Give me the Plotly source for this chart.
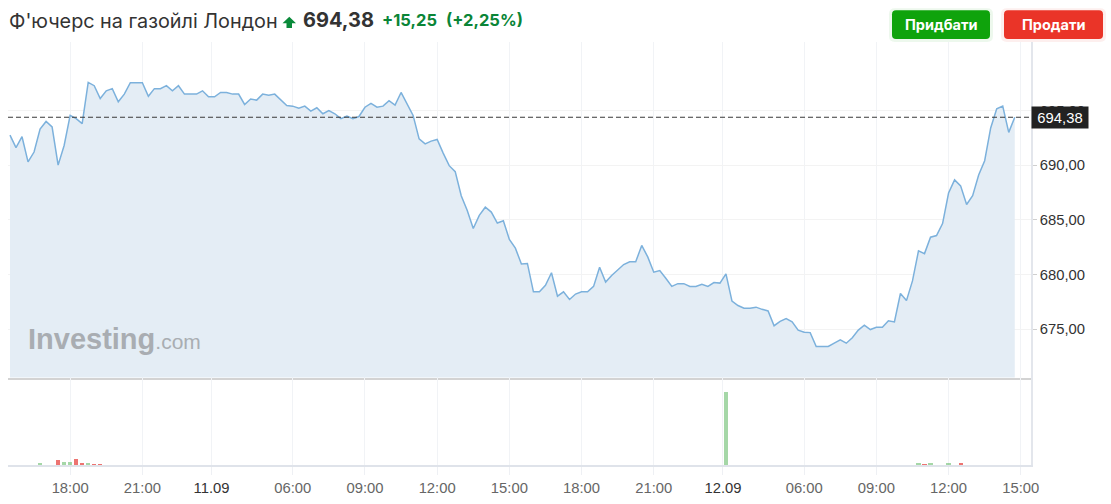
import plotly.graph_objects as go

# ---------------- data ----------------
prices = [
    692.75, 691.6, 692.6, 690.3, 691.2, 693.3, 694.0, 693.5, 690.0, 691.8,
    694.55, 694.25, 693.8, 697.57, 697.27, 696.1, 696.8, 697.0, 695.8, 696.5,
    697.55, 697.55, 697.55, 696.3, 697.0, 697.0, 697.27, 696.8, 697.27, 696.5,
    696.5, 696.5, 696.8, 696.25, 696.25, 696.65, 696.65, 696.5, 696.5, 695.55,
    696.05, 695.95, 696.5, 696.4, 696.5, 696.0, 695.45, 695.4, 695.2, 695.4,
    694.95, 695.25, 694.7, 695.0, 694.7, 694.25, 694.5, 694.25, 694.45, 695.3,
    695.65, 695.3, 695.4, 695.9, 695.5, 696.65, 695.65, 694.55, 692.4, 691.95,
    692.2, 692.35, 691.1, 689.95, 689.4, 687.2, 685.85, 684.2, 685.4, 686.15,
    685.7, 684.7, 684.9, 683.2, 682.4, 680.95, 681.0, 678.4, 678.4, 679.0,
    680.15, 678.0, 678.4, 677.7, 678.2, 678.4, 678.4, 678.9, 680.65, 679.3,
    679.9, 680.4, 680.9, 681.15, 681.15, 682.65, 681.6, 680.2, 680.35, 679.65,
    678.9, 679.15, 679.15, 678.9, 678.9, 679.1, 678.9, 679.25, 679.2, 680.05,
    677.55, 677.15, 676.9, 676.9, 677.0, 676.8, 676.65, 675.3, 675.7, 675.95,
    675.65, 674.9, 674.7, 674.67, 673.4, 673.4, 673.4, 673.7, 674.0, 673.7,
    674.2, 674.9, 675.35, 674.95, 675.15, 675.15, 675.75, 675.65, 678.25, 677.6,
    679.4, 682.15, 681.9, 683.4, 683.55, 684.65, 687.45, 688.65, 688.1, 686.4,
    687.2, 689.1, 690.4, 693.4, 695.15, 695.4, 693.0, 694.38,
]
bar_index = list(range(len(prices)))

vol_index = [1, 2, 3, 4, 5, 6, 7, 8, 9, 10, 11, 12, 13, 14, 15, 16, 17, 19, 20,
             119,
             147, 148, 149, 150, 151, 152, 153, 154, 155, 156, 157, 158]
vol_value = [0.8, 0.8, 0.8, 0.8, 2, 0.8, 0.8, 5, 3, 3.5, 6, 2, 2, 1, 1, 0.8, 0.8, 0.8, 0.8,
             74,
             0.8, 0.8, 0.8, 0.8, 2.5, 1.5, 2.5, 0.8, 0.8, 2.5, 0.8, 2.5]

tick_pos = [10, 22, 33.5, 47, 59, 71, 83, 95, 107, 118.5, 132, 144, 156, 168]
tick_text = ["18:00", "21:00", "11.09", "06:00", "09:00", "12:00", "15:00",
             "18:00", "21:00", "12.09", "06:00", "09:00", "12:00", "15:00"]
date_ticks = {"11.09", "12.09"}

price_ticks = [675, 680, 685, 690, 695]
last_price = prices[-1]
title_text = "Ф'ючерс на газойлі Лондон"
change_abs = "+15,25"
change_pct = "(+2,25%)"

# ---------------- layout helpers ----------------
W, H = 1111, 504
L, R, T, B = 8, 80, 42, 36


def X(px):
    return (px - L) / (W - L - R)


def Y(py):
    return (H - B - py) / (H - T - B)


def rrect(x0, y0, x1, y1, r):
    p = lambda x, y: f"{X(x):.5f},{Y(y):.5f}"
    return (f"M{p(x0 + r, y0)} L{p(x1 - r, y0)} Q{p(x1, y0)} {p(x1, y0 + r)} "
            f"L{p(x1, y1 - r)} Q{p(x1, y1)} {p(x1 - r, y1)} L{p(x0 + r, y1)} "
            f"Q{p(x0, y1)} {p(x0, y1 - r)} L{p(x0, y0 + r)} Q{p(x0, y0)} {p(x0 + r, y0)} Z")


def fmt(v):
    return f"{v:.2f}".replace(".", ",")


GREEN_UP = "rgba(76,175,80,0.5)"
RED_DN = "rgba(229,57,53,0.7)"
vol_colors = [GREEN_UP if prices[i] >= prices[i - 1] else RED_DN for i in vol_index]

AX_FONT = "Arial, Liberation Sans, sans-serif"
HDR_FONT = "Inter, Noto Sans, sans-serif"

fig = go.Figure()
fig.add_trace(go.Scatter(
    x=bar_index, y=prices, mode="lines",
    line=dict(color="#7cb1dc", width=1.5),
    fill="tozeroy", fillcolor="#e4edf5",
    xaxis="x", yaxis="y", hoverinfo="skip",
))
fig.add_trace(go.Bar(
    x=vol_index, y=vol_value, width=0.7,
    marker=dict(color=vol_colors, line=dict(width=0)),
    xaxis="x2", yaxis="y2", hoverinfo="skip",
))

split = Y(380)
xrange = [-0.33, 169.7]
ticktext_fmt = [f"<span style='color:#333'>{t}</span>" if t in date_ticks else t for t in tick_text]

fig.update_layout(
    width=W, height=H,
    margin=dict(l=L, r=R, t=T, b=B),
    paper_bgcolor="white", plot_bgcolor="white",
    showlegend=False, hovermode=False, bargap=0,
    xaxis=dict(domain=[0, 1], anchor="y", range=xrange,
               tickvals=tick_pos, ticktext=tick_text, showticklabels=False,
               showgrid=True, gridcolor="#f1f3f6", gridwidth=1,
               showline=True, linecolor="#d3d3d3", linewidth=2,
               zeroline=False, ticks=""),
    yaxis=dict(domain=[split, 1], anchor="x", side="right",
               range=[670.55, 701.27],
               tickvals=price_ticks, ticktext=[fmt(v) for v in price_ticks],
               tickfont=dict(family=AX_FONT, size=14.8, color="#333"),
               showgrid=True, gridcolor="#f3f3f3", gridwidth=1,
               ticks="outside", ticklen=4, tickcolor="#cfcfcf",
               showline=True, linecolor="#e3e6ec", linewidth=1.5,
               zeroline=False),
    xaxis2=dict(domain=[0, 1], anchor="y2", matches="x", range=xrange,
                tickvals=tick_pos, ticktext=ticktext_fmt,
                tickfont=dict(family=AX_FONT, size=14.8, color="#666"),
                showgrid=True, gridcolor="#f1f3f6", gridwidth=1,
                ticks="outside", ticklen=8, tickcolor="#eef0f4",
                showline=True, linecolor="#dfe3ea", linewidth=2,
                zeroline=False),
    yaxis2=dict(domain=[0, split], anchor="x2", side="right",
                range=[0, 88], showticklabels=False, showgrid=False,
                showline=True, linecolor="#e3e6ec", linewidth=1.5,
                zeroline=False, ticks=""),
)

shapes = [
    # last price dashed line
    dict(type="line", xref="paper", x0=0, x1=1, yref="y", y0=last_price, y1=last_price,
         line=dict(color="#3a3a3a", width=1.2, dash="5px,3px"), layer="above"),
    # button shadows
    dict(type="path", xref="paper", yref="paper", path=rrect(889, 8, 993, 42, 6),
         fillcolor="rgba(20,160,20,0.08)", line=dict(width=0)),
    dict(type="path", xref="paper", yref="paper", path=rrect(1001, 8, 1106, 42, 6),
         fillcolor="rgba(235,50,40,0.08)", line=dict(width=0)),
    # buttons
    dict(type="path", xref="paper", yref="paper", path=rrect(892, 10, 990, 39, 4),
         fillcolor="#0fa30c", line=dict(width=0)),
    dict(type="path", xref="paper", yref="paper", path=rrect(1004, 10, 1103, 39, 4),
         fillcolor="#ea3428", line=dict(width=0)),
]
# up arrow in header
ax = lambda x, y: f"{X(x):.5f},{Y(y):.5f}"
shapes.append(dict(
    type="path", xref="paper", yref="paper",
    path=(f"M{ax(289.3, 16.5)} L{ax(296, 23)} L{ax(292, 23)} L{ax(292, 28)} "
          f"L{ax(286.5, 28)} L{ax(286.5, 23)} L{ax(282.5, 23)} Z"),
    fillcolor="#0a8a3a", line=dict(width=0)))
fig.update_layout(shapes=shapes)

ann = [
    dict(text=title_text, x=X(7), y=Y(21), xanchor="left", yanchor="middle",
         font=dict(family=HDR_FONT, size=19.8, color="#333")),
    dict(text=f"<b>{fmt(last_price)}</b>", x=X(301), y=Y(20), xanchor="left", yanchor="middle",
         font=dict(family=HDR_FONT, size=20, color="#333")),
    dict(text=f"<b>{change_abs}</b>", x=X(380), y=Y(20), xanchor="left", yanchor="middle",
         font=dict(family=HDR_FONT, size=16.5, color="#0a8537")),
    dict(text=f"<b>{change_pct}</b>", x=X(444), y=Y(20), xanchor="left", yanchor="middle",
         font=dict(family=HDR_FONT, size=16.5, color="#0a8537")),
    dict(text="<b>Придбати</b>", x=X(941), y=Y(24.5), xanchor="center", yanchor="middle",
         font=dict(family=HDR_FONT, size=14.5, color="white")),
    dict(text="<b>Продати</b>", x=X(1053.5), y=Y(24.5), xanchor="center", yanchor="middle",
         font=dict(family=HDR_FONT, size=14.5, color="white")),
    # watermark
    dict(text="<b>Investing</b><span style='font-size:21px;font-weight:normal'>.com</span>",
         x=X(26), y=Y(341), xanchor="left", yanchor="middle",
         font=dict(family=AX_FONT, size=29, color="#a9adb2")),
    # last price label
    dict(text=fmt(last_price), xref="paper", x=1, yref="y", y=last_price,
         xanchor="left", yanchor="middle", bgcolor="#222", borderpad=3,
         width=50, height=15, align="center",
         font=dict(family=AX_FONT, size=14.8, color="white")),
]
for a in ann:
    a.setdefault("xref", "paper")
    a.setdefault("yref", "paper")
    a["showarrow"] = False
fig.update_layout(annotations=ann)

fig.write_html("out.html", config={"displayModeBar": False},
               post_script="document.body.style.margin='0';document.body.style.padding='0';")
